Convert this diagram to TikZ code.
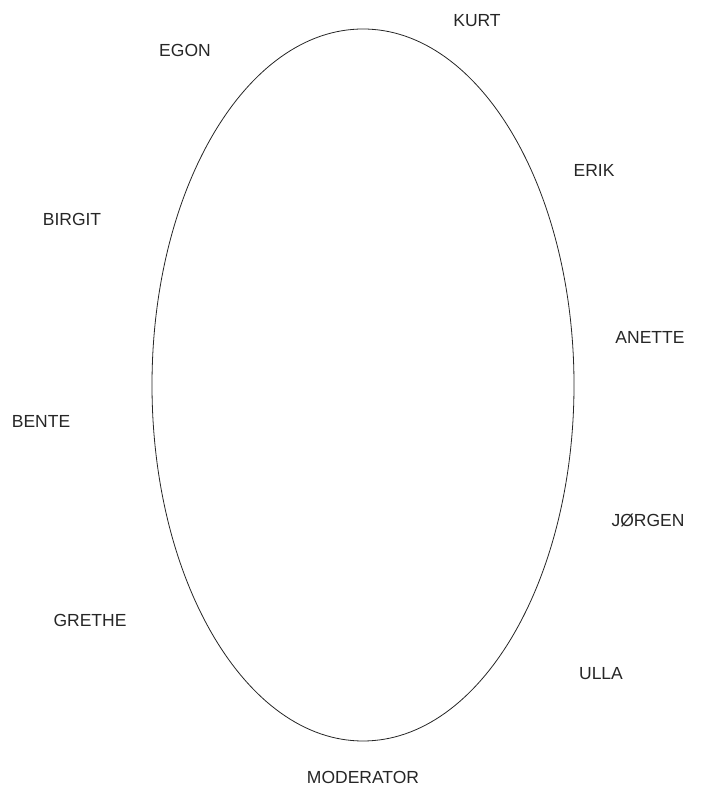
\documentclass[tikz,border=0pt]{standalone}
\usepackage{fontspec}
\setmainfont{Liberation Sans}
\begin{document}
\begin{tikzpicture}[x=1pt,y=1pt,
  lbl/.style={inner sep=0pt,text=black!85,font=\fontsize{17.5}{21}\selectfont}]
\useasboundingbox (0,0) rectangle (713,787);
\draw[line width=0.8pt,black!85] (363,402) ellipse [x radius=211, y radius=356];
\node[lbl] (kurt) at (477,766) {KURT};
\node[lbl] (egon) at (185,737) {EGON};
\node[lbl] (erik) at (594,617) {ERIK};
\node[lbl] (birgit) at (72,568) {BIRGIT};
\node[lbl] (anette) at (650,450) {ANETTE};
\node[lbl] (bente) at (41,366) {BENTE};
\node[lbl] (jorgen) at (648,267) {JØRGEN};
\node[lbl] (grethe) at (90,167) {GRETHE};
\node[lbl] (ulla) at (601,113) {ULLA};
\node[lbl] (moderator) at (363,10) {MODERATOR};
\end{tikzpicture}
\end{document}
